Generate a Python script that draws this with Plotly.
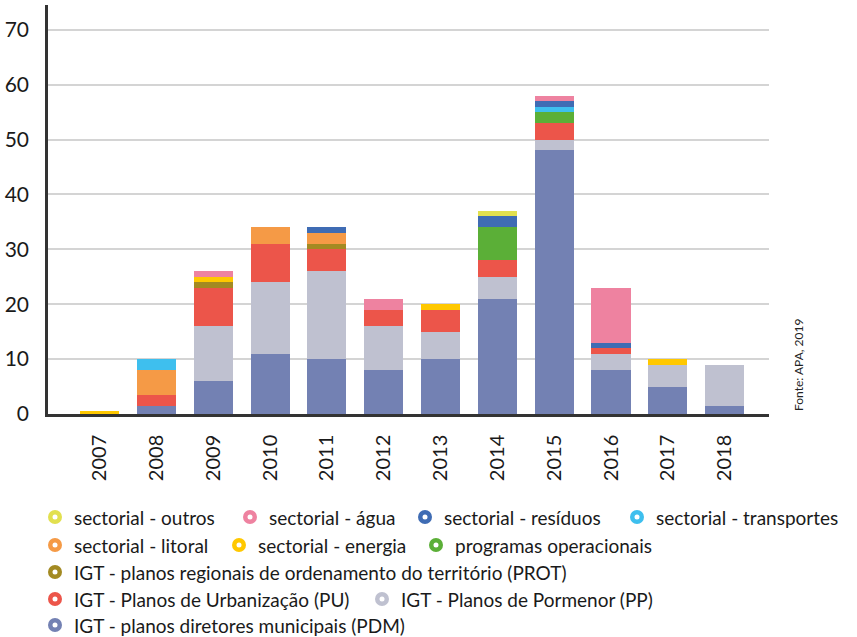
import plotly.graph_objects as go

# Annual counts of plans by type (stacked bottom to top in this order)
years = ["2007", "2008", "2009", "2010", "2011", "2012", "2013", "2014", "2015", "2016", "2017", "2018"]

pdm = [0, 1.5, 6, 11, 10, 8, 10, 21, 48, 8, 5, 1.5]
pp = [0, 0, 10, 13, 16, 8, 5, 4, 2, 3, 4, 7.5]
pu = [0, 2, 7, 7, 4, 3, 4, 3, 3, 1, 0, 0]
prot = [0, 0, 1, 0, 1, 0, 0, 0, 0, 0, 0, 0]
prog_oper = [0, 0, 0, 0, 0, 0, 0, 6, 2, 0, 0, 0]
energia = [0.5, 0, 1, 0, 0, 0, 1, 0, 0, 0, 1, 0]
litoral = [0, 4.5, 0, 3, 2, 0, 0, 0, 0, 0, 0, 0]
transportes = [0, 2, 0, 0, 0, 0, 0, 0, 1, 0, 0, 0]
residuos = [0, 0, 0, 0, 1, 0, 0, 2, 1, 1, 0, 0]
agua = [0, 0, 1, 0, 0, 2, 0, 0, 1, 10, 0, 0]
outros = [0, 0, 0, 0, 0, 0, 0, 1, 0, 0, 0, 0]

series_names = [
    "IGT - planos diretores municipais (PDM)",
    "IGT - Planos de Pormenor (PP)",
    "IGT - Planos de Urbanização (PU)",
    "IGT - planos regionais de ordenamento do território (PROT)",
    "programas operacionais",
    "sectorial - energia",
    "sectorial - litoral",
    "sectorial - transportes",
    "sectorial - resíduos",
    "sectorial - água",
    "sectorial - outros",
]
series_values = [pdm, pp, pu, prot, prog_oper, energia, litoral, transportes, residuos, agua, outros]
series_colors = [
    "#7381B3", "#BFC1D0", "#EC554A", "#A38A22", "#5BAF37", "#FFC800",
    "#F59A46", "#3EBFEE", "#3F6CB4", "#EE82A0", "#E2E04F",
]

FONT = "Lato"
W, H = 857, 637
PL, PR, PT, PB = 48, 769, 5, 414  # plot area in pixels

fig = go.Figure()
for name, vals, col in zip(series_names, series_values, series_colors):
    fig.add_trace(go.Bar(
        x=years,
        y=[v if v else None for v in vals],
        name=name,
        marker=dict(color=col, line=dict(width=0)),
        width=0.687,
        showlegend=False,
    ))


def px_x(px):
    return (px - PL) / (PR - PL)


def px_y(py):
    return (PB - py) / (PB - PT)


# Legend drawn as marker circles with a white centre, plus labels
legend_rows = [
    (517, [(55, 10), (250, 9), (425, 8), (637, 7)]),
    (545, [(55, 6), (239, 5), (436, 4)]),
    (572, [(55, 3)]),
    (599, [(55, 2), (382, 1)]),
    (625, [(55, 0)]),
]
shapes = []
annotations = []
for ry, items in legend_rows:
    for mx, idx in items:
        shapes.append(dict(
            type="circle", xref="paper", yref="paper",
            xsizemode="pixel", ysizemode="pixel",
            xanchor=px_x(mx), yanchor=px_y(ry),
            x0=-7, x1=7, y0=-7, y1=7,
            fillcolor=series_colors[idx], line=dict(width=0), layer="above",
        ))
        shapes.append(dict(
            type="circle", xref="paper", yref="paper",
            xsizemode="pixel", ysizemode="pixel",
            xanchor=px_x(mx), yanchor=px_y(ry),
            x0=-2.5, x1=2.5, y0=-2.5, y1=2.5,
            fillcolor="white", line=dict(width=0), layer="above",
        ))
        annotations.append(dict(
            text=series_names[idx], xref="paper", yref="paper",
            x=px_x(mx + 17), y=px_y(ry), xanchor="left", yanchor="middle",
            showarrow=False, font=dict(family=FONT, size=19, color="#1a1a1a"),
        ))

annotations.append(dict(
    text="Fonte: APA, 2019", xref="paper", yref="paper",
    x=px_x(798), y=px_y(413), xanchor="center", yanchor="bottom",
    textangle=-90, showarrow=False,
    font=dict(family=FONT, size=12, color="#222222"),
))

fig.update_layout(
    barmode="stack",
    width=W, height=H,
    margin=dict(l=PL, r=W - PR, t=PT, b=H - PB, pad=0),
    paper_bgcolor="white", plot_bgcolor="white",
    font=dict(family=FONT, color="#1a1a1a"),
    shapes=shapes,
    annotations=annotations,
    xaxis=dict(
        type="category",
        range=[-0.907, 11.78],
        showline=True, linecolor="#333333", linewidth=2.5,
        showgrid=False, ticks="",
        tickangle=-90,
        tickfont=dict(family=FONT, size=20, color="#1a1a1a"),
        ticklabelstandoff=10,
    ),
    yaxis=dict(
        range=[0, 74.5],
        tickvals=[0, 10, 20, 30, 40, 50, 60, 70],
        showline=True, linecolor="#333333", linewidth=2.5,
        showgrid=True, gridcolor="#D4D4D4", gridwidth=1.5,
        zeroline=False, ticks="",
        tickfont=dict(family=FONT, size=21, color="#1a1a1a"),
        ticklabelstandoff=12,
    ),
    bargap=0.3,
)

fig.write_html("out.html")
